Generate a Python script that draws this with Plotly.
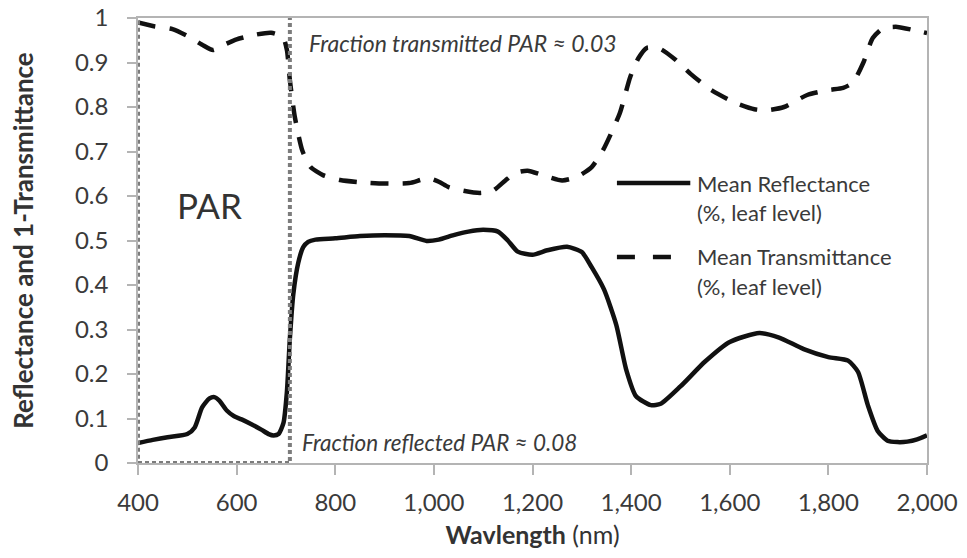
import plotly.graph_objects as go

# Leaf-level spectra (wavelength in nm)
refl_wl = [400, 430, 460, 500, 515, 530, 545, 555, 565, 580, 595, 610, 630, 650, 665, 675,
           685, 695, 702, 708, 715, 725, 735, 745, 760, 800, 850, 900, 950, 985, 1010,
           1040, 1070, 1100, 1130, 1150, 1170, 1200, 1230, 1270, 1300, 1320, 1345, 1370,
           1390, 1410, 1440, 1460, 1500, 1550, 1600, 1660, 1700, 1750, 1800, 1840, 1860,
           1880, 1900, 1920, 1940, 1960, 1980, 2000]
reflectance = [0.045, 0.052, 0.058, 0.065, 0.08, 0.125, 0.145, 0.148, 0.14, 0.118, 0.105,
               0.098, 0.087, 0.075, 0.065, 0.062, 0.065, 0.09, 0.16, 0.28, 0.38, 0.45,
               0.485, 0.497, 0.502, 0.505, 0.51, 0.512, 0.51, 0.499, 0.502, 0.512, 0.52,
               0.524, 0.52, 0.5, 0.475, 0.468, 0.478, 0.486, 0.474, 0.44, 0.39, 0.31, 0.21,
               0.15, 0.13, 0.133, 0.172, 0.228, 0.272, 0.292, 0.282, 0.256, 0.238, 0.23,
               0.205, 0.13, 0.072, 0.05, 0.047, 0.048, 0.053, 0.062]

trans_wl = [400, 430, 470, 505, 530, 552, 575, 600, 640, 670, 694, 702, 708, 718, 733,
            750, 775, 810, 850, 900, 950, 988, 1010, 1030, 1060, 1094, 1120, 1145, 1165,
            1190, 1221, 1260, 1290, 1320, 1343, 1377, 1398, 1415, 1432, 1460, 1490, 1520,
            1560, 1610, 1650, 1676, 1710, 1757, 1800, 1830, 1850, 1871, 1890, 1911, 1940,
            1972, 2000]
one_minus_trans = [0.99, 0.982, 0.975, 0.957, 0.94, 0.928, 0.94, 0.952, 0.963, 0.967, 0.957,
                   0.928, 0.86, 0.778, 0.703, 0.665, 0.647, 0.636, 0.631, 0.628, 0.629, 0.64,
                   0.632, 0.62, 0.612, 0.607, 0.612, 0.635, 0.652, 0.657, 0.647, 0.635,
                   0.643, 0.665, 0.703, 0.786, 0.867, 0.91, 0.933, 0.93, 0.906, 0.875, 0.84,
                   0.81, 0.795, 0.793, 0.8, 0.827, 0.838, 0.843, 0.855, 0.9, 0.955, 0.977,
                   0.98, 0.973, 0.966]

x_ticks = [400, 600, 800, 1000, 1200, 1400, 1600, 1800, 2000]
y_ticks = [0, 0.1, 0.2, 0.3, 0.4, 0.5, 0.6, 0.7, 0.8, 0.9, 1]
y_tick_labels = ["0", "0.1", "0.2", "0.3", "0.4", "0.5", "0.6", "0.7", "0.8", "0.9", "1"]

par_band = [400, 708]

FONT = "Lato"
TXT = "#3a3a3a"
AXIS = "#b4b4b4"

fig = go.Figure()

fig.add_trace(go.Scatter(
    x=refl_wl, y=reflectance, mode="lines", name="Mean Reflectance",
    line=dict(color="#111111", width=4.5, shape="spline", smoothing=0.6),
    showlegend=False, hoverinfo="skip", cliponaxis=False))

fig.add_trace(go.Scatter(
    x=trans_wl, y=one_minus_trans, mode="lines", name="Mean Transmittance",
    line=dict(color="#111111", width=4.5, dash="18px,14px", shape="spline", smoothing=0.6),
    showlegend=False, hoverinfo="skip", cliponaxis=False))

# PAR band outline
fig.add_shape(type="rect", xref="x", yref="y",
              x0=par_band[0], x1=par_band[1], y0=0, y1=1.005,
              line=dict(color="#7c7c7c", width=4, dash="4px,3px"), layer="above")

# Hand-built legend
fig.add_shape(type="line", xref="paper", yref="paper", x0=0.607, x1=0.700, y0=0.629, y1=0.629,
              line=dict(color="#111111", width=4.5))
fig.add_shape(type="line", xref="paper", yref="paper", x0=0.607, x1=0.676, y0=0.463, y1=0.463,
              line=dict(color="#111111", width=4.5, dash="18px,18px"))
legend_lines = [("Mean Reflectance", 0.629), ("(%, leaf level)", 0.562),
                ("Mean Transmittance", 0.463), ("(%, leaf level)", 0.396)]
for txt, yy in legend_lines:
    fig.add_annotation(x=0.706, y=yy, xref="paper", yref="paper", text=txt,
                       showarrow=False, xanchor="left", yanchor="middle",
                       font=dict(family=FONT, size=22, color=TXT))

fig.add_annotation(x=544, y=0.58, text="PAR", showarrow=False,
                   font=dict(family=FONT, size=35, color="#333333"))
fig.add_annotation(x=743, y=0.944, text="<i>Fraction transmitted PAR ≈ 0.03</i>",
                   showarrow=False, xanchor="left", yanchor="middle",
                   font=dict(family=FONT, size=23, color=TXT))
fig.add_annotation(x=729, y=0.045, text="<i>Fraction reflected PAR ≈ 0.08</i>",
                   showarrow=False, xanchor="left", yanchor="middle",
                   font=dict(family=FONT, size=22.5, color=TXT))

fig.update_layout(
    width=967, height=558,
    margin=dict(l=138, r=40, t=18, b=95),
    paper_bgcolor="white", plot_bgcolor="white",
    font=dict(family=FONT, color=TXT),
    xaxis=dict(range=[400, 2000], tickvals=x_ticks, tickformat=",d", automargin=False,
               showgrid=False, zeroline=False, showline=True, mirror=True,
               linecolor=AXIS, linewidth=1.5, ticks="outside", ticklen=10,
               tickcolor=AXIS, tickwidth=1.5, ticklabelstandoff=7,
               tickfont=dict(family=FONT, size=24, color=TXT),
               title=dict(text="<b>Wavlength</b> (nm)", standoff=12,
                          font=dict(family=FONT, size=25, color="#333333"))),
    yaxis=dict(range=[0, 1], tickvals=y_ticks, ticktext=y_tick_labels, automargin=False,
               showgrid=False, zeroline=False, showline=True, mirror=True,
               linecolor=AXIS, linewidth=1.5, ticks="outside", ticklen=9,
               tickcolor=AXIS, tickwidth=1.5, ticklabelstandoff=14,
               tickfont=dict(family=FONT, size=24, color=TXT),
               title=dict(text="<b>Reflectance and 1-Transmittance</b>", standoff=34,
                          font=dict(family=FONT, size=26, color="#333333"))),
)

fig.write_html("out.html")
